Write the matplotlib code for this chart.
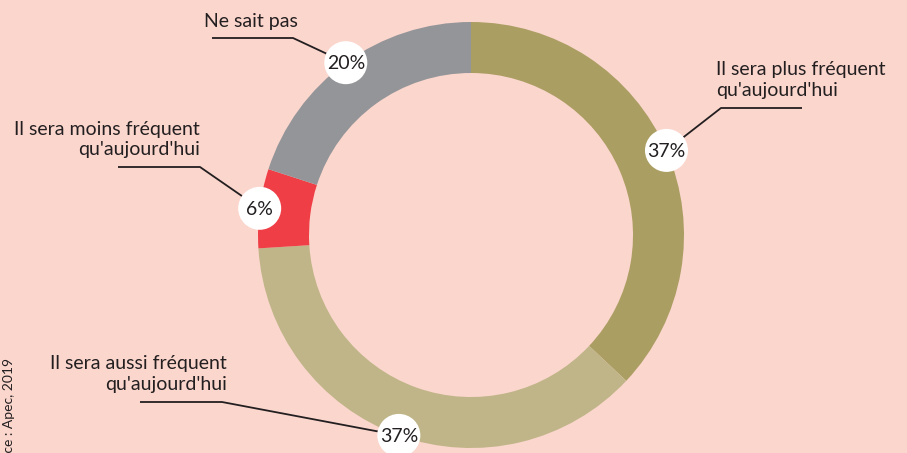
import numpy as np
import matplotlib.pyplot as plt
from matplotlib.patches import Circle

# data (clockwise from top)
labels = ["Il sera plus fréquent\nqu'aujourd'hui",
          "Il sera aussi fréquent\nqu'aujourd'hui",
          "Il sera moins fréquent\nqu'aujourd'hui",
          "Ne sait pas"]
values = [37, 37, 6, 20]
colors = ["#ab9e63", "#c0b588", "#ef3e46", "#939598"]

bg = "#fbd6cd"
ink = "#231f20"
plt.rcParams['font.family'] = ['Lato', 'DejaVu Sans']

W, H = 907, 453
fig = plt.figure(figsize=(W / 100, H / 100), dpi=100, facecolor=bg)
ax = fig.add_axes([0, 0, 1, 1])

cx, cy, R = 471, 218, 213
ax.pie(values, colors=colors, startangle=90, counterclock=False,
       center=(cx, cy), radius=R, frame=True,
       wedgeprops=dict(width=51, linewidth=0))
ax.set_xlim(0, W)
ax.set_ylim(0, H)
ax.set_aspect('equal')
ax.axis('off')

# text x, text bottom y, alignment, leader start x, elbow x, leader y
layout = [
    (716, 354, 'left', 802, 721, 345),
    (227, 60, 'right', 140, 222, 51),
    (200, 295, 'right', 118, 200, 286),
    (298, 423, 'right', 212, 293, 415),
]

cum = np.cumsum([0] + values[:-1])
for i, v in enumerate(values):
    mid = np.deg2rad(90 - (cum[i] + v / 2) * 3.6)
    px, py = cx + R * np.cos(mid), cy + R * np.sin(mid)
    tx, ty, ha, lx0, lx1, ly = layout[i]
    # leader: horizontal, then diagonal to the bubble
    vec = np.array([lx1 - px, ly - py])
    vec = vec / np.hypot(*vec)
    ex, ey = px + vec[0] * 21.5, py + vec[1] * 21.5
    ax.plot([lx0, lx1, ex], [ly, ly, ey], color=ink, lw=1.3,
            solid_capstyle='butt', zorder=3)
    ax.add_patch(Circle((px, py), 21.5, facecolor='white',
                        edgecolor='none', zorder=4))
    ax.text(px, py - 1, f"{v}%", ha='center', va='center',
            fontsize=14, color=ink, zorder=5)
    ax.text(tx, ty, labels[i], ha=ha, va='bottom', fontsize=14,
            color=ink, linespacing=1.25)

ax.text(9, 95, "Source : Apec, 2019", rotation=90, ha='center', va='top',
        fontsize=10, color=ink)

fig.savefig("out.png", dpi=100, facecolor=bg)
